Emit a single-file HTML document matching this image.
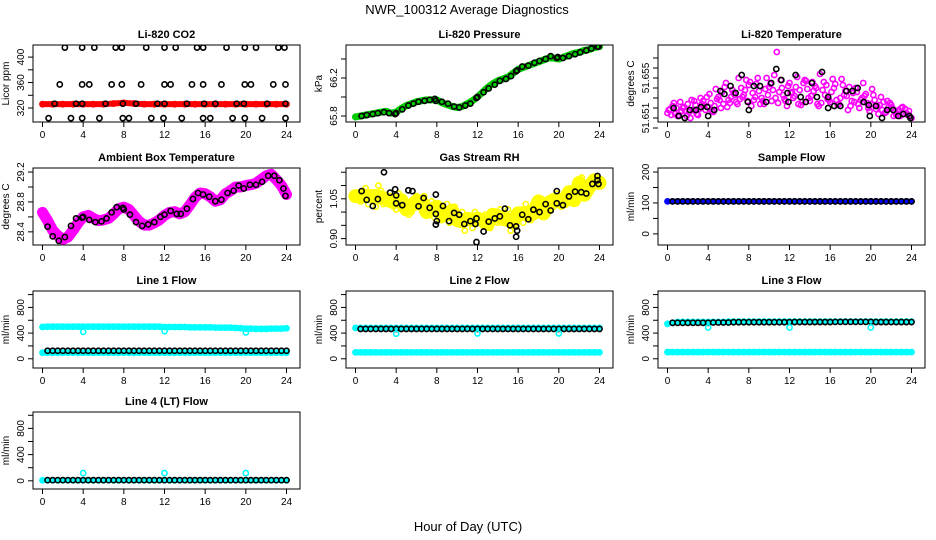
<!DOCTYPE html>
<html><head><meta charset="utf-8">
<style>
html,body{margin:0;padding:0;background:#fff;}
svg{display:block;font-family:"Liberation Sans",sans-serif;}
</style></head>
<body>
<svg id="chart" width="936" height="540" viewBox="0 0 936 540" xmlns="http://www.w3.org/2000/svg">
<text x="467" y="14" text-anchor="middle" font-size="13">NWR_100312  Average Diagnostics</text>
<text x="468" y="531" text-anchor="middle" font-size="13">Hour of Day (UTC)</text>
</svg>
<script>
const xTicks=[0,4,8,12,16,20,24];
const halfHours=[];for(let i=0;i<=48;i++)halfHours.push(i/2);
const blackHalf=[];for(let i=1;i<=48;i++)blackHalf.push(i/2);
const dipHours=[4,12,20];
// CO2
const co2Red=[326,326,326,326,326,326,326,327,328,327,326,326,326,326,326,326,326,326,326,326,326,326,326,326,326];
const co2Hi=[2.2,3.9,5.1,7.2,7.8,10.2,12,13.1,15.2,15.8,18.1,19.9,21,23.2,23.8];
const co2Mid=[1.7,3.9,4.6,6.8,7.8,9.7,12,12.6,14.7,15.8,17.6,19.9,20.5,22.7,23.9];
const co2Base=[1.2,3.3,3.9,6.2,7.9,9.2,11.3,12,14.2,15.9,17,19.1,19.8,22.1,23.9];
const co2Lo=[0.6,2.8,3.9,5.6,7.9,8.5,10.7,11.9,13.7,15.8,16.5,18.7,19.9,21.6,23.9];
// Pressure
const presGreen=[65.79,65.80,65.81,65.82,65.83,65.84,65.85,65.83,65.84,65.88,65.91,65.93,65.95,65.96,65.97,65.97,65.97,65.94,65.92,65.90,65.89,65.90,65.93,65.96,66.00,66.05,66.10,66.14,66.17,66.19,66.21,66.25,66.29,66.31,66.33,66.35,66.37,66.39,66.41,66.41,66.40,66.42,66.44,66.46,66.47,66.49,66.50,66.52,66.53];
const blackHours=[0.6,1.1,1.7,2.2,2.8,3.3,3.9,4.0,4.6,5.2,5.7,6.2,6.8,7.3,7.8,7.9,8.5,9.1,9.7,10.2,10.8,11.3,11.9,12.0,12.6,13.1,13.7,14.2,14.8,15.3,15.8,15.9,16.4,17.0,17.6,18.1,18.7,19.2,19.8,19.9,20.4,21.0,21.6,22.1,22.7,23.2,23.8,23.9];
const presBlack=[65.80,65.81,65.82,65.83,65.84,65.83,65.82,65.83,65.87,65.91,65.93,65.95,65.96,65.97,65.98,65.96,65.95,65.93,65.90,65.89,65.91,65.93,65.99,66.00,66.05,66.09,66.13,66.17,66.19,66.22,66.27,66.28,66.32,66.33,66.36,66.38,66.40,66.43,66.41,66.42,66.41,66.43,66.45,66.47,66.49,66.51,66.53,66.53];
// Li-820 temperature
const tempPinkA=[51.6515,51.6522,51.6512,51.6520,51.6524,51.6518,51.6513,51.6527,51.6521,51.6516,51.6531,51.6524,51.6528,51.6535,51.6550,51.6533,51.6543,51.6528,51.6537,51.6524,51.6541,51.6553,51.6536,51.6529,51.6545,51.6532,51.6538,51.6548,51.6527,51.6542,51.6554,51.6533,51.6526,51.6544,51.6530,51.6537,51.6522,51.6540,51.6528,51.6534,51.6524,51.6519,51.6531,51.6516,51.6523,51.6513,51.6520,51.6515,51.6510];
const tempPinkB=[51.6519,51.6514,51.6526,51.6517,51.6510,51.6523,51.6530,51.6518,51.6525,51.6539,51.6520,51.6545,51.6531,51.6526,51.6540,51.6548,51.6522,51.6544,51.6530,51.6550,51.6527,51.6576,51.6540,51.6522,51.6536,51.6551,51.6526,51.6539,51.6546,51.6524,51.6538,51.6529,51.6549,51.6523,51.6543,51.6518,51.6535,51.6524,51.6545,51.6520,51.6533,51.6514,51.6526,51.6521,51.6512,51.6518,51.6514,51.6517];
const tempPinkC=[51.6518,51.6525,51.6513,51.6521,51.6516,51.6527,51.6519,51.6523,51.6534,51.6522,51.6528,51.6541,51.6525,51.6533,51.6529,51.6538,51.6546,51.6531,51.6524,51.6539,51.6544,51.6530,51.6548,51.6527,51.6535,51.6541,51.6523,51.6547,51.6532,51.6540,51.6525,51.6543,51.6536,51.6528,51.6549,51.6532,51.6527,51.6536,51.6530,51.6525,51.6539,51.6522,51.6518,51.6527,51.6520,51.6514,51.6521,51.6513];
const tempPinkD=[51.6513,51.6520,51.6517,51.6512,51.6528,51.6514,51.6524,51.6531,51.6517,51.6529,51.6536,51.6521,51.6538,51.6524,51.6531,51.6527,51.6535,51.6550,51.6527,51.6533,51.6538,51.6525,51.6533,51.6542,51.6530,51.6524,51.6545,51.6530,51.6537,51.6522,51.6546,51.6528,51.6540,51.6524,51.6533,51.6541,51.6526,51.6520,51.6532,51.6517,51.6528,51.6523,51.6515,51.6525,51.6517,51.6512,51.6519,51.6511];
const tempBlackH=[0.6,1.1,1.7,2.2,2.8,3.3,3.9,4,4.6,5.2,5.6,6.2,6.7,7.3,7.9,8,8.5,9.1,9.7,10.2,10.7,11.2,11.8,11.9,12.6,13.1,13.6,14.2,14.7,15.2,15.8,15.8,16.4,17,17.6,18.2,18.7,19.3,19.8,19.9,20.5,21.1,21.6,22.2,22.7,23.2,23.8,23.9];
const tempBlack=[51.6520,51.6512,51.6510,51.6518,51.6518,51.6521,51.6521,51.6512,51.6518,51.6537,51.6534,51.6542,51.6535,51.6553,51.6526,51.6518,51.6542,51.6542,51.6526,51.6545,51.6559,51.6548,51.6535,51.6526,51.6553,51.6531,51.6526,51.6545,51.6531,51.6556,51.6531,51.6520,51.6522,51.6522,51.6537,51.6537,51.6540,51.6526,51.6523,51.6512,51.6522,51.6510,51.6518,51.6518,51.6512,51.6514,51.6512,51.6510];
// Ambient
const ambPink=[28.66,28.55,28.42,28.35,28.30,28.33,28.42,28.52,28.60,28.62,28.58,28.55,28.56,28.58,28.64,28.71,28.73,28.70,28.62,28.54,28.49,28.49,28.52,28.56,28.62,28.66,28.67,28.64,28.67,28.76,28.86,28.92,28.91,28.87,28.81,28.83,28.91,28.95,29.00,29.00,29.02,29.03,29.05,29.10,29.15,29.17,29.10,29.02,28.90];
const ambBlackH=[0.5,1,1.6,2.2,2.8,3.3,3.9,4,4.6,5.2,5.8,6.3,6.8,7.3,7.9,8,8.6,9.2,9.8,10.4,11,11.6,12,12.6,13.2,13.6,14.2,14.8,15.3,15.8,16.4,17,17.6,18.2,18.8,19.3,19.8,20.4,21,21.6,22.2,22.8,23.3,23.7,23.9];
const ambBlack=[28.47,28.34,28.28,28.33,28.48,28.58,28.59,28.60,28.56,28.53,28.54,28.58,28.66,28.73,28.72,28.70,28.63,28.53,28.48,28.50,28.53,28.60,28.63,28.68,28.64,28.64,28.71,28.84,28.92,28.90,28.87,28.81,28.83,28.92,28.95,29.02,28.98,29.03,29.03,29.07,29.15,29.15,29.09,28.98,28.88];
// RH
const rhYellowA=[1.07,1.04,1.09,1.05,1.02,1.08,1.04,1.06,1.01,1.05,1.03,1.00,1.06,1.02,0.99,1.04,1.01,0.97,1.03,0.99,0.96,1.00,0.98,0.94,0.99,0.95,0.97,1.00,0.96,0.98,1.01,0.95,0.99,0.96,1.01,0.98,1.03,1.00,1.04,1.02,1.06,1.03,1.07,1.05,1.09,1.06,1.10,1.13,1.11];
const rhYellowB=[1.05,1.08,1.03,1.07,1.10,1.03,1.06,1.02,1.07,1.04,0.99,1.05,1.02,1.06,1.01,0.98,1.03,1.00,0.96,1.02,0.98,0.93,0.97,1.00,0.96,0.99,0.94,0.98,1.01,0.97,0.93,0.98,1.00,1.03,0.97,1.01,1.05,0.99,1.03,1.07,1.02,1.05,1.08,1.04,1.13,1.07,1.09,1.11];
const rhBlackH=[0.6,1.1,1.7,2.2,2.8,3.4,3.9,4,4,4.6,5.2,5.6,6.2,6.7,7.3,7.9,7.9,7.9,8,8.6,9.2,9.7,10.2,10.7,11.3,11.8,11.9,11.9,12.6,13.1,13.7,14.2,14.7,15.2,15.8,15.9,15.8,16.4,17,17.5,18.1,18.7,19.2,19.8,19.8,20.4,21,21.6,22.2,22.7,23.3,23.8,23.9,23.8];
const rhBlack=[1.079,1.046,1.023,1.049,1.15,1.073,1.086,1.063,1.033,1.026,1.082,1.079,1.022,1.053,1.016,1.066,0.993,0.953,0.966,1.023,0.966,0.997,0.990,0.955,0.966,0.955,0.976,0.887,0.927,0.964,0.976,0.984,1.013,0.950,0.946,0.930,0.907,0.990,0.973,1.009,1.0,1.030,1.006,1.079,1.033,1.026,1.059,1.077,1.075,1.070,1.106,1.136,1.106,1.12];
// Flows
const sampleBlue=[105,105,105,105,105,105,105,105,105,105,105,105,105,105,105,105,105,105,105,105,105,105,105,105,105,105,105,105,105,105,105,105,105,105,105,105,105,105,105,105,105,105,105,105,105,105,105,105,105];
const sampleBlack=[105,105,105,105,105,105,105,105,105,105,105,105,105,105,105,105,105,105,105,105,105,105,105,105,105,105,105,105,105,105,105,105,105,105,105,105,105,105,105,105,105,105,105,105,105,105,105,105];
const l1Hi=[495,500,500,500,500,500,500,500,500,500,500,500,500,500,500,500,500,500,500,500,500,500,500,500,495,495,495,495,495,490,490,490,490,490,485,485,485,485,480,475,470,470,465,465,465,470,470,470,475];
const l1Lo=[95,95,95,95,95,95,95,95,95,95,95,95,95,95,95,95,95,95,95,95,95,95,95,95,95,95,95,95,95,95,95,95,95,95,95,95,95,95,95,95,95,95,95,95,95,95,95,95,95];
const l1Black=[125,125,125,125,125,125,125,125,125,125,125,125,125,125,125,125,125,125,125,125,125,125,125,125,125,125,125,125,125,125,125,125,125,125,125,125,125,125,125,125,125,125,125,125,125,125,125,125];
const l1Dip=[420,430,410];
const l2Hi=[480,480,480,480,480,480,480,480,480,480,480,480,480,480,480,480,480,480,480,480,480,480,480,480,480,480,480,480,480,480,480,480,480,480,480,480,480,480,480,480,480,480,480,480,480,480,480,480,480];
const l2Lo=[100,100,100,100,100,100,100,100,100,100,100,100,100,100,100,100,100,100,100,100,100,100,100,100,100,100,100,100,100,100,100,100,100,100,100,100,100,100,100,100,100,100,100,100,100,100,100,100,100];
const l2Black=[465,465,465,465,465,465,465,465,465,465,465,465,465,465,465,465,465,465,465,465,465,465,465,465,465,465,465,465,465,465,465,465,465,465,465,465,465,465,465,465,465,465,465,465,465,465,465,465];
const l2Dip=[390,395,395];
const l3Hi=[545,560,575,575,575,575,575,575,575,575,575,575,580,580,580,580,580,580,580,580,580,580,580,580,580,580,580,580,580,580,580,580,580,580,580,580,580,580,580,580,580,580,580,580,580,580,580,580,580];
const l3Lo=[104,104,104,104,104,104,104,104,104,104,104,104,104,104,104,104,104,104,104,104,104,104,104,104,104,104,104,104,104,104,104,104,104,104,104,104,104,104,104,104,104,104,104,104,104,104,104,104,104];
const l3Black=[560,560,560,560,560,560,560,560,565,565,565,565,570,570,570,570,570,570,570,570,570,570,570,570,572,572,572,572,572,572,572,572,575,575,575,575,575,575,575,575,572,572,572,572,572,572,572,572];
const l3Dip=[488,488,488];
const l4Cyan=[8,8,8,8,8,8,8,8,8,8,8,8,8,8,8,8,8,8,8,8,8,8,8,8,8,8,8,8,8,8,8,8,8,8,8,8,8,8,8,8,8,8,8,8,8,8,8,8,8];
const l4Black=[10,10,10,10,10,10,10,10,10,10,10,10,10,10,10,10,10,10,10,10,10,10,10,10,10,10,10,10,10,10,10,10,10,10,10,10,10,10,10,10,10,10,10,10,10,10,10,10];
const l4Dip=[118,118,118];

const svg=document.getElementById('chart');
const NS='http://www.w3.org/2000/svg';
function mk(tag,attrs,parent){const e=document.createElementNS(NS,tag);for(const k in attrs)e.setAttribute(k,attrs[k]);(parent||svg).appendChild(e);return e;}
const colL=[33,346,658], rowT=[45,168,291,412], W=267, H=77;
let clipId=0;
function panel(o){
  const left=colL[o.col], top=rowT[o.row];
  const g=mk('g',{});
  
  
  const xs=h=>left+9.5+h*(W-23)/24;
  const ys=v=>top+H-(v-o.ymin)/(o.ymax-o.ymin)*H;
  const t=mk('text',{x:left+W/2,y:top-7,'text-anchor':'middle','font-size':11,'font-weight':'bold'},g);
  t.textContent=o.title;
  
  
  const yl=mk('text',{x:0,y:0,'text-anchor':'middle','font-size':10,transform:`translate(${left-24},${top+H/2}) rotate(-90)`},g);
  yl.textContent=o.ylab;
  
  
  const cid='c'+(clipId++);
  const cp=mk('clipPath',{id:cid},g);mk('rect',{x:left,y:top,width:W,height:H},cp);
  const pg=mk('g',{'clip-path':`url(#${cid})`},g);
  
  
  o.series.forEach(s=>{
    if(s.band){
      const pts=s.x.map((h,i)=>xs(h)+','+ys(s.y[i])).join(' ');
      const pl=mk('polyline',{points:pts,fill:'none',stroke:s.color,'stroke-width':s.band,'stroke-linejoin':'round','stroke-linecap':'round'},pg);
      
      
    }
    s.x.forEach((h,i)=>{
      const c=mk('circle',{cx:xs(h),cy:ys(s.y[i]),r:2.6,fill:'none',stroke:s.color,'stroke-width':1.6},pg);
      
      
    });
  });
  mk('rect',{x:left,y:top,width:W,height:H,fill:'none',stroke:'#000','stroke-width':1},g);
  xTicks.forEach(h=>{
    mk('line',{x1:xs(h),x2:xs(h),y1:top+H,y2:top+H+5,stroke:'#000'},g);
    const tx=mk('text',{x:xs(h),y:top+H+16,'text-anchor':'middle','font-size':10},g);
    tx.textContent=h;
    
    
  });
  o.yticks.forEach(v=>{
    mk('line',{x1:left,x2:left-5,y1:ys(v),y2:ys(v),stroke:'#000'},g);
  });
  o.ylabels.forEach(v=>{
    const ty=mk('text',{x:0,y:0,'text-anchor':'middle','font-size':10,transform:`translate(${left-9},${ys(v)}) rotate(-90)`},g);
    ty.textContent=v;
    
    
  });
}
const dense=a=>a.map((v,i)=>halfHours[i]);
const denseB=a=>a.map((v,i)=>blackHalf[i]);
const offs=(a,o)=>a.map((v,i)=>i/2+o);
const co2RedH=co2Red.map((v,i)=>i);
const cst=(a,v)=>a.map(()=>v);
panel({name:'co2-panel',col:0,row:0,title:'Li-820 CO2',ylab:'Licor ppm',ymin:298,ymax:419,yticks:[320,340,360,380,400],ylabels:['320','360','400'],
 series:[{x:co2RedH,y:co2Red,color:'#ff0000',band:6},{x:co2Hi,y:cst(co2Hi,415),color:'#000'},{x:co2Mid,y:cst(co2Mid,357),color:'#000'},{x:co2Base,y:cst(co2Base,326.7),color:'#000'},{x:co2Lo,y:cst(co2Lo,304),color:'#000'}]});
panel({name:'pressure-panel',col:1,row:0,title:'Li-820 Pressure',ylab:'kPa',ymin:65.737,ymax:66.547,yticks:[65.8,66.0,66.2,66.4],ylabels:['65.8','66.2'],
 series:[{x:dense(presGreen),y:presGreen,color:'#00cc00',band:7},{x:blackHours,y:presBlack,color:'#000'}]});
panel({name:'li820-temp-panel',col:2,row:0,title:'Li-820 Temperature',ylab:'degrees C',ymin:51.6506,ymax:51.6583,yticks:[51.650,51.651,51.652,51.653,51.654,51.655,51.656,51.657],ylabels:['51.651','51.655'],
 series:[{x:dense(tempPinkA),y:tempPinkA,color:'#ff00ff'},{x:offs(tempPinkB,0.25),y:tempPinkB,color:'#ff00ff'},{x:offs(tempPinkC,0.125),y:tempPinkC,color:'#ff00ff'},{x:offs(tempPinkD,0.375),y:tempPinkD,color:'#ff00ff'},{x:tempBlackH,y:tempBlack,color:'#000'}]});
panel({name:'ambient-temp-panel',col:0,row:1,title:'Ambient Box Temperature',ylab:'degrees C',ymin:28.224,ymax:29.254,yticks:[28.4,28.6,28.8,29.0,29.2],ylabels:['28.4','28.8','29.2'],
 series:[{x:dense(ambPink),y:ambPink,color:'#ff00ff',band:11},{x:ambBlackH,y:ambBlack,color:'#000'}]});
panel({name:'rh-panel',col:1,row:1,title:'Gas Stream RH',ylab:'percent',ymin:0.876,ymax:1.166,yticks:[0.90,0.95,1.00,1.05,1.10,1.15],ylabels:['0.90','1.05'],
 series:[{x:dense(rhYellowA),y:rhYellowA,color:'#ffff00',band:0},{x:offs(rhYellowB,0.25),y:rhYellowB,color:'#ffff00'},{x:dense(rhYellowA),y:rhYellowA.map((v,i)=>(v+(rhYellowB[i]!==undefined?rhYellowB[i]:v))/2),color:'#ffff00',band:14},{x:rhBlackH,y:rhBlack,color:'#000'}]});
panel({name:'sample-flow-panel',col:2,row:1,title:'Sample Flow',ylab:'ml/min',ymin:-36,ymax:213,yticks:[0,50,100,150,200],ylabels:['0','100','200'],
 series:[{x:dense(sampleBlue),y:sampleBlue,color:'#0000ff',band:5},{x:denseB(sampleBlack),y:sampleBlack,color:'#000'}]});
const fT=[0,200,400,600,800,1000], fL=['0','400','800'];
panel({name:'line1-flow-panel',col:0,row:2,title:'Line 1 Flow',ylab:'ml/min',ymin:-144,ymax:1056,yticks:fT,ylabels:fL,
 series:[{x:dense(l1Hi),y:l1Hi,color:'#00ffff',band:6},{x:dense(l1Lo),y:l1Lo,color:'#00ffff',band:6},{x:denseB(l1Black),y:l1Black,color:'#000'},{x:dipHours,y:l1Dip,color:'#00ffff'}]});
panel({name:'line2-flow-panel',col:1,row:2,title:'Line 2 Flow',ylab:'ml/min',ymin:-144,ymax:1056,yticks:fT,ylabels:fL,
 series:[{x:dense(l2Hi),y:l2Hi,color:'#00ffff',band:5},{x:dense(l2Lo),y:l2Lo,color:'#00ffff',band:6},{x:denseB(l2Black),y:l2Black,color:'#000'},{x:dipHours,y:l2Dip,color:'#00ffff'}]});
panel({name:'line3-flow-panel',col:2,row:2,title:'Line 3 Flow',ylab:'ml/min',ymin:-144,ymax:1056,yticks:fT,ylabels:fL,
 series:[{x:dense(l3Hi),y:l3Hi,color:'#00ffff',band:5},{x:dense(l3Lo),y:l3Lo,color:'#00ffff',band:6},{x:denseB(l3Black),y:l3Black,color:'#000'},{x:dipHours,y:l3Dip,color:'#00ffff'}]});
panel({name:'line4-flow-panel',col:0,row:3,title:'Line 4 (LT) Flow',ylab:'ml/min',ymin:-125,ymax:1050,yticks:fT,ylabels:fL,
 series:[{x:dense(l4Cyan),y:l4Cyan,color:'#00ffff',band:5},{x:denseB(l4Black),y:l4Black,color:'#000'},{x:dipHours,y:l4Dip,color:'#00ffff'}]});
</script>
</body></html>
